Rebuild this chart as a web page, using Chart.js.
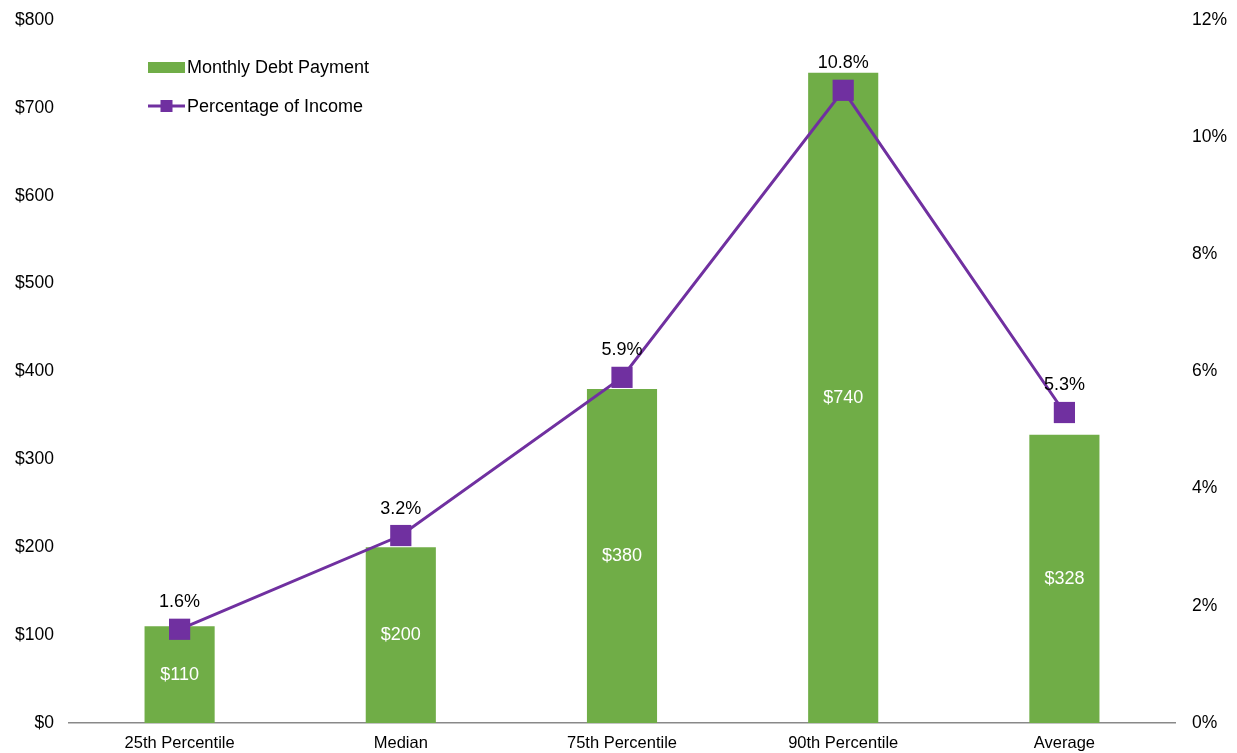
<!DOCTYPE html>
<html>
<head>
<meta charset="utf-8">
<script src="https://cdn.jsdelivr.net/npm/chart.js@4.4.1/dist/chart.umd.min.js"></script>
<style>
  html, body { margin: 0; padding: 0; background: #fff; }
  #wrap { width: 1237px; height: 753px; position: relative; }
</style>
</head>
<body>
<div id="wrap"><canvas id="debtChart" width="1237" height="753"></canvas></div>
<script>
// categories and values
const categories = ['25th Percentile', 'Median', '75th Percentile', '90th Percentile', 'Average'];
const debtPayment = [110, 200, 380, 740, 328];
const pctOfIncome = [1.6, 3.2, 5.9, 10.8, 5.3];

const GREEN = '#70AD47';
const PURPLE = '#7030A0';
const FONT = "'Liberation Sans', Arial, sans-serif";

// value labels: $ inside bars, % above the line markers
const valueLabels = {
    id: 'valueLabels',
    afterDatasetsDraw(chart) {
        const ctx = chart.ctx;
        ctx.save();
        ctx.font = '18px ' + FONT;
        ctx.textAlign = 'center';
        ctx.textBaseline = 'middle';

        chart.getDatasetMeta(0).data.forEach((bar, i) => {
            ctx.fillStyle = '#fff';
            ctx.fillText('$' + debtPayment[i], bar.x, (bar.y + bar.base) / 2);
        });
        chart.getDatasetMeta(1).data.forEach((pt, i) => {
            ctx.fillStyle = '#000';
            ctx.fillText(pctOfIncome[i].toFixed(1) + '%', pt.x, pt.y - 27);
        });
        ctx.restore();
    }
};

// legend drawn inside the plot, top-left
const innerLegend = {
    id: 'innerLegend',
    afterDraw(chart) {
        const ctx = chart.ctx;
        const x = 148, w = 37;
        ctx.save();
        ctx.font = '18px ' + FONT;
        ctx.textBaseline = 'middle';
        ctx.textAlign = 'left';

        ctx.fillStyle = GREEN;
        ctx.fillRect(x, 62, w, 11);
        ctx.fillStyle = '#000';
        ctx.fillText(chart.data.datasets[0].label, x + w + 2, 68);

        ctx.strokeStyle = PURPLE;
        ctx.lineWidth = 3;
        ctx.beginPath();
        ctx.moveTo(x, 106);
        ctx.lineTo(x + w, 106);
        ctx.stroke();
        ctx.fillStyle = PURPLE;
        ctx.fillRect(x + w / 2 - 6, 100, 12, 12);
        ctx.fillStyle = '#000';
        ctx.fillText(chart.data.datasets[1].label, x + w + 2, 107);
        ctx.restore();
    }
};

new Chart(document.getElementById('debtChart').getContext('2d'), {
    data: {
        labels: categories,
        datasets: [
            {
                type: 'bar',
                label: 'Monthly Debt Payment',
                data: debtPayment,
                yAxisID: 'yDollar',
                backgroundColor: GREEN,
                categoryPercentage: 1,
                barPercentage: 0.317,
                order: 1
            },
            {
                type: 'line',
                label: 'Percentage of Income',
                data: pctOfIncome,
                yAxisID: 'yPct',
                borderColor: PURPLE,
                borderWidth: 3,
                backgroundColor: PURPLE,
                pointStyle: 'rect',
                pointRadius: 15,
                pointHoverRadius: 15,
                pointBorderWidth: 0,
                tension: 0,
                order: 0
            }
        ]
    },
    options: {
        responsive: false,
        animation: false,
        layout: { autoPadding: false, padding: { top: 20, bottom: 0, left: 0, right: 0 } },
        plugins: {
            legend: { display: false },
            tooltip: { enabled: false }
        },
        scales: {
            x: {
                grid: { display: false, drawTicks: false },
                border: { color: '#898989', width: 1.5 },
                ticks: { color: '#000', font: { family: FONT, size: 16.5, lineHeight: 1 }, padding: 12 },
                afterFit(scale) { scale.height = 30; }
            },
            yDollar: {
                position: 'left',
                min: 0, max: 800,
                grid: { display: false, drawTicks: false },
                border: { display: false },
                ticks: {
                    stepSize: 100,
                    color: '#000',
                    font: { family: FONT, size: 17.5, lineHeight: 1 },
                    padding: 15,
                    callback: v => '$' + v
                },
                afterFit(scale) { scale.width = 69; scale.paddingTop = 0; scale.paddingBottom = 0; }
            },
            yPct: {
                position: 'right',
                min: 0, max: 12,
                grid: { display: false, drawTicks: false },
                border: { display: false },
                ticks: {
                    stepSize: 2,
                    color: '#000',
                    font: { family: FONT, size: 17.5, lineHeight: 1 },
                    padding: 17,
                    callback: v => v + '%'
                },
                afterFit(scale) { scale.width = 62; scale.paddingTop = 0; scale.paddingBottom = 0; }
            }
        }
    },
    plugins: [valueLabels, innerLegend]
});
</script>
</body>
</html>
